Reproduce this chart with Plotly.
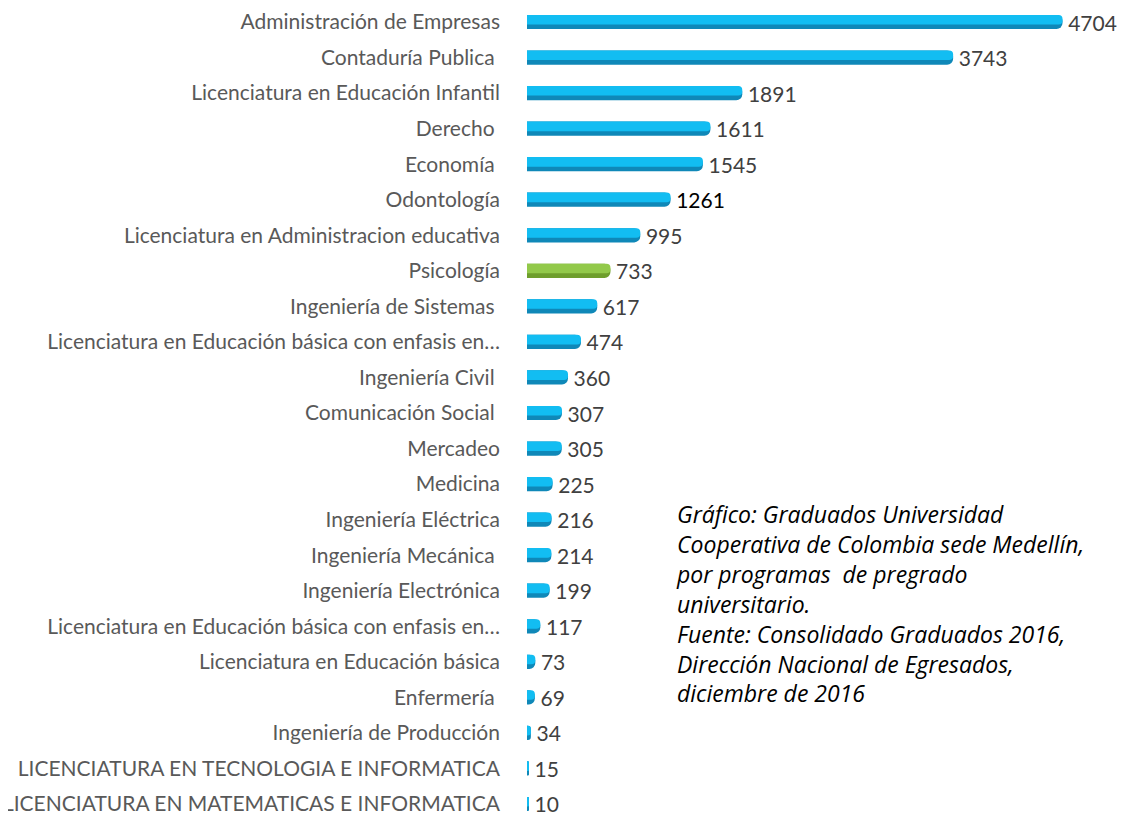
import plotly.graph_objects as go

programas = [
    "Administración de Empresas",
    "Contaduría Publica ",
    "Licenciatura en Educación Infantil",
    "Derecho ",
    "Economía ",
    "Odontología",
    "Licenciatura en Administracion educativa",
    "Psicología",
    "Ingeniería de Sistemas ",
    "Licenciatura en Educación básica con enfasis en…",
    "Ingeniería Civil ",
    "Comunicación Social ",
    "Mercadeo",
    "Medicina",
    "Ingeniería Eléctrica",
    "Ingeniería Mecánica ",
    "Ingeniería Electrónica",
    "Licenciatura en Educación básica con enfasis en…",
    "Licenciatura en Educación básica",
    "Enfermería ",
    "Ingeniería de Producción",
    "LICENCIATURA EN TECNOLOGIA E INFORMATICA",
    "LICENCIATURA EN MATEMATICAS E INFORMATICA",
]
graduados = [4704, 3743, 1891, 1611, 1545, 1261, 995, 733, 617, 474, 360, 307,
             305, 225, 216, 214, 199, 117, 73, 69, 34, 15, 10]
destacado = "Psicología"

nota = ["Gráfico: Graduados Universidad",
        "Cooperativa de Colombia sede Medellín,",
        "por programas  de pregrado",
        "universitario.",
        "Fuente: Consolidado Graduados 2016,",
        "Dirección Nacional de Egresados,",
        "diciembre de 2016"]

pos = list(range(len(programas)))
dark = ["#6e9e2c" if p == destacado else "#0f88b8" for p in programas]
light = ["#92c94a" if p == destacado else "#12bdf2" for p in programas]
txtcol = ["#000000" if v == 1261 else "#404040" for v in graduados]

fig = go.Figure()
fig.add_trace(go.Bar(
    x=graduados, y=pos, orientation="h", width=0.4,
    marker=dict(color=dark, line=dict(width=0)),
    text=[f"{v}" for v in graduados], texttemplate="\u2009%{text}",
    textposition="outside", cliponaxis=False, constraintext="none",
    textfont=dict(family="Lato", size=21, color=txtcol),
    hoverinfo="skip",
))
fig.add_trace(go.Bar(
    x=graduados, y=pos, orientation="h", width=0.27, offset=-0.2,
    marker=dict(color=light, line=dict(width=0)),
    hoverinfo="skip",
))

# page body has an 8px margin; keep the figure inside the window
FW, FH = 1111, 809
L = 519
W = 592
XMAX = 5200
fig.add_annotation(
    text="<br>".join(nota), xref="paper", yref="paper",
    x=(666 - L) / W, y=1 - 488 / FH,
    xanchor="left", yanchor="top",
    align="left", showarrow=False,
    font=dict(family="Open Sans", size=23, color="#000000", style="italic"),
)

fig.update_layout(
    width=FW, height=FH,
    margin=dict(l=L, r=FW - L - W, t=0, b=0, autoexpand=False),
    paper_bgcolor="white", plot_bgcolor="white",
    barmode="overlay", barcornerradius=6, showlegend=False,
    xaxis=dict(range=[0, XMAX], visible=False, automargin=False),
    yaxis=dict(range=[22.366, -0.394], tickvals=pos, ticktext=programas,
               showgrid=False, zeroline=False, showline=False, ticks="",
               ticklabelstandoff=26, automargin=False,
               ticklabeloverflow="allow",
               tickfont=dict(family="Lato", size=21, color="#595959")),
)

fig.write_html("out.html")
